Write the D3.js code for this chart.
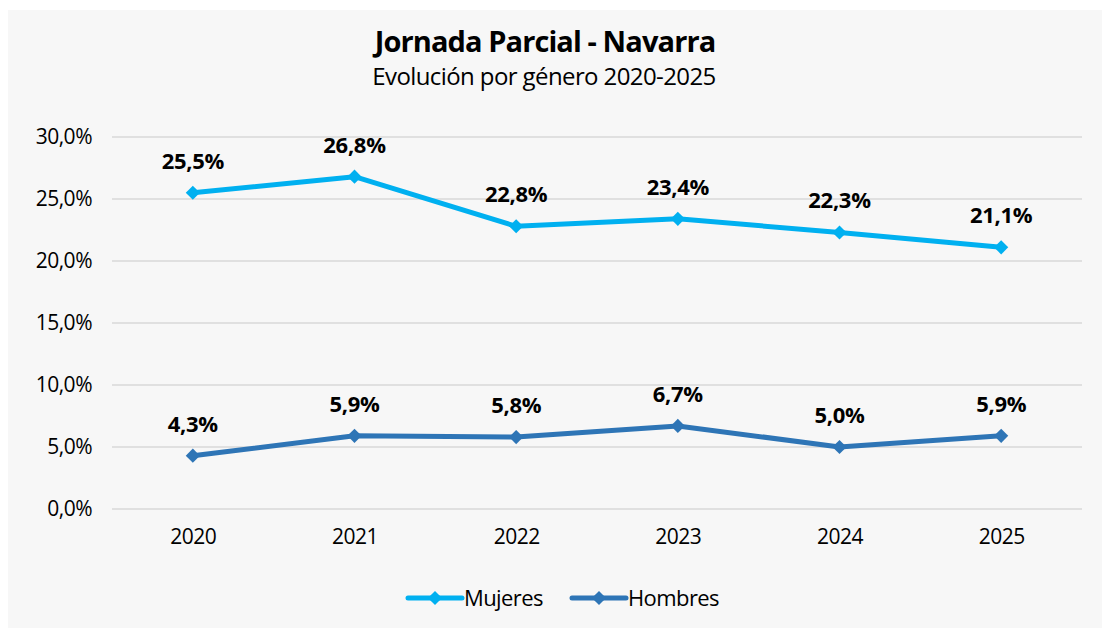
<!DOCTYPE html>
<html>
  <head>
    <meta charset="utf-8">
    <title>Jornada Parcial - Navarra</title>
    <script src="https://cdn.jsdelivr.net/npm/d3@7"></script>
    <style>
      body{margin:0;background:#fff;}
      text{font-family:"Open Sans", sans-serif;fill:#000;}
    </style>
  </head>
  <body>
    <script>
    // datos
    const years=['2020','2021','2022','2023','2024','2025'];
    const mujeres=[25.5, 26.8, 22.8, 23.4, 22.3, 21.1];
    const hombres=[4.3, 5.9, 5.8, 6.7, 5.0, 5.9];
    const yTicks=[0, 5, 10, 15, 20, 25, 30];

    const series=[
      {name:'Mujeres', values:mujeres, color:'#00b0f0'},
      {name:'Hombres', values:hombres, color:'#2e75b6'}
    ];

    const W=1102, H=628;
    const svg=d3.select('body').append('svg').attr('width', W).attr('height', H);

    svg.append('rect').attr('x', 8).attr('y', 10).attr('width', W-8).attr('height', H-10).attr('fill', '#f7f7f7');

    // titulo
    svg.append('text').attr('x', 545).attr('y', 52).attr('text-anchor', 'middle')
      .style('font-size', '29px').style('font-weight', 'bold').style('letter-spacing', '-0.9px')
      .text('Jornada Parcial - Navarra');
    svg.append('text').attr('x', 544).attr('y', 85).attr('text-anchor', 'middle')
      .style('font-size', '24px').style('letter-spacing', '-0.6px')
      .text('Evolución por género 2020-2025');

    const x=d3.scalePoint().domain(years).range([112, 1082]).padding(0.5);
    const y=d3.scaleLinear().domain([0, 30]).range([509, 137]);

    const fmt=v=>d3.format('.1f')(v).replace('.', ',')+'%';

    // rejilla
    svg.append('g').selectAll('line').data(yTicks).join('line')
      .attr('x1', 112).attr('x2', 1082)
      .attr('y1', d=>y(d)).attr('y2', d=>y(d))
      .attr('stroke', '#d9d9d9').attr('stroke-width', 1.5);

    // eje y
    const yAxis=svg.append('g').attr('transform', 'translate(112,0)')
      .call(d3.axisLeft(y).tickValues(yTicks).tickFormat(fmt).tickSize(0).tickPadding(20));
    yAxis.select('.domain').remove();
    yAxis.selectAll('text').style('font-size', '21px').style('font-family', '"Open Sans", sans-serif').style('letter-spacing', '-0.5px');

    // eje x
    const xAxis=svg.append('g').attr('transform', 'translate(0,509)')
      .call(d3.axisBottom(x).tickSize(0).tickPadding(20));
    xAxis.select('.domain').remove();
    xAxis.selectAll('text').style('font-size', '21px').style('font-family', '"Open Sans", sans-serif').style('letter-spacing', '-0.5px');

    const line=d3.line().x((d, i)=>x(years[i])).y(d=>y(d));
    const diamond=d3.symbol().type(d3.symbolSquare).size(100);

    series.forEach(s=>{
      svg.append('path').attr('d', line(s.values))
        .attr('fill', 'none').attr('stroke', s.color).attr('stroke-width', 5)
        .attr('stroke-linejoin', 'round').attr('stroke-linecap', 'round');

      svg.append('g').selectAll('path').data(s.values).join('path')
        .attr('d', diamond)
        .attr('transform', (d, i)=>`translate(${x(years[i])},${y(d)}) rotate(45)`)
        .attr('fill', s.color);

      svg.append('g').selectAll('text').data(s.values).join('text')
        .attr('x', (d, i)=>x(years[i]))
        .attr('y', d=>y(d)-24)
        .attr('text-anchor', 'middle')
        .style('font-size', '22px').style('font-weight', 'bold').style('letter-spacing', '-0.3px')
        .text(fmt);
    });

    // leyenda
    const legend=svg.append('g');
    const items=[{x:408, s:series[0]}, {x:572, s:series[1]}];
    items.forEach(it=>{
      legend.append('line').attr('x1', it.x).attr('x2', it.x+54).attr('y1', 598).attr('y2', 598)
        .attr('stroke', it.s.color).attr('stroke-width', 5).attr('stroke-linecap', 'round');
      legend.append('path').attr('d', diamond).attr('transform', `translate(${it.x+27},598) rotate(45)`).attr('fill', it.s.color);
      legend.append('text').attr('x', it.x+56).attr('y', 606)
        .style('font-size', '22px').style('letter-spacing', '-0.6px').text(it.s.name);
    });
    </script>
  </body>
</html>
